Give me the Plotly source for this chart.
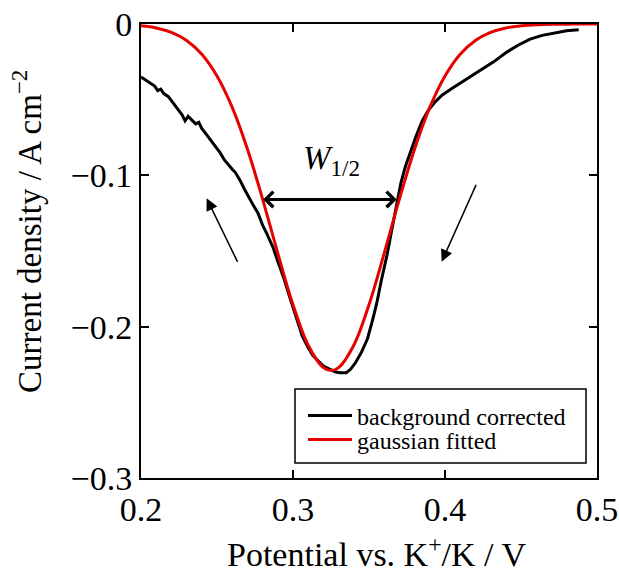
import plotly.graph_objects as go

# background-corrected current density
bg_x = [0.200, 0.203, 0.206, 0.209, 0.211, 0.213, 0.215, 0.218, 0.221, 0.224, 0.227, 0.229,
        0.231, 0.233, 0.236, 0.238, 0.240, 0.243, 0.246, 0.249, 0.252, 0.255, 0.258, 0.260,
        0.262, 0.265, 0.268, 0.271, 0.274, 0.277, 0.280, 0.283, 0.287, 0.290, 0.294, 0.298,
        0.302, 0.306, 0.310, 0.313, 0.316, 0.320, 0.324, 0.328, 0.331, 0.335, 0.338, 0.341,
        0.345, 0.349, 0.352, 0.355, 0.358, 0.362, 0.365, 0.368, 0.371, 0.374, 0.377, 0.381,
        0.385, 0.389, 0.393, 0.398, 0.404, 0.410, 0.416, 0.424, 0.432, 0.440, 0.448, 0.456,
        0.464, 0.472, 0.480, 0.488]
bg_y = [-0.035, -0.037, -0.039, -0.041, -0.044, -0.043, -0.046, -0.048, -0.052, -0.056, -0.060, -0.064,
        -0.061, -0.063, -0.066, -0.065, -0.069, -0.073, -0.077, -0.081, -0.085, -0.090, -0.094, -0.096,
        -0.098, -0.103, -0.109, -0.115, -0.120, -0.125, -0.133, -0.139, -0.148, -0.157, -0.168, -0.181,
        -0.194, -0.206, -0.214, -0.219, -0.222, -0.226, -0.228, -0.230, -0.2305, -0.2305, -0.228, -0.224,
        -0.217, -0.208, -0.197, -0.185, -0.170, -0.152, -0.136, -0.120, -0.105, -0.094, -0.085, -0.074,
        -0.064, -0.057, -0.052, -0.047, -0.043, -0.039, -0.035, -0.030, -0.025, -0.019, -0.014, -0.010,
        -0.0075, -0.0058, -0.0045, -0.0038]

# gaussian fitted curve
fit_x = [0.20, 0.21, 0.22, 0.23, 0.24, 0.25, 0.26, 0.27, 0.28, 0.29, 0.30, 0.31, 0.32, 0.325,
         0.33, 0.34, 0.35, 0.36, 0.37, 0.38, 0.39, 0.40, 0.41, 0.42, 0.43, 0.44, 0.45, 0.46,
         0.47, 0.48, 0.49, 0.50]
fit_y = [-0.0012, -0.0026, -0.0056, -0.0109, -0.0200, -0.0344, -0.0551, -0.0826, -0.1157, -0.1515,
         -0.1855, -0.2123, -0.2271, -0.2290, -0.2271, -0.2123, -0.1855, -0.1515, -0.1157, -0.0826,
         -0.0551, -0.0344, -0.0200, -0.0109, -0.0056, -0.0026, -0.0012, -0.0005, -0.0002, -0.0001,
         0.0, 0.0]

x_ticks = [0.2, 0.3, 0.4, 0.5]
y_ticks = [0, -0.1, -0.2, -0.3]
series_names = ["background corrected", "gaussian fitted"]
x_title = "Potential vs. K<sup>+</sup>/K / V"
y_title = "Current density / A cm<sup>−2</sup>"
width_label = "<i>W</i><sub>1/2</sub>"
w_left, w_right, w_level = 0.2794, 0.3682, -0.1159

FONT = "Liberation Serif, Times New Roman, serif"
L, R, T, B = 141, 597, 24, 478
PW, PH = R - L, B - T


def px_x(p):
    return (p - L) / PW


def px_y(p):
    return (B - p) / PH


fig = go.Figure()
fig.add_trace(go.Scatter(x=bg_x, y=bg_y, mode="lines", name=series_names[0], legend="legend",
                         line=dict(color="black", width=3)))
fig.add_trace(go.Scatter(x=fit_x, y=fit_y, mode="lines", name=series_names[1], legend="legend2",
                         line=dict(color="#e60000", width=3, shape="spline")))

axis_common = dict(showline=True, linecolor="black", linewidth=2, mirror="ticks",
                   ticks="inside", ticklen=8, tickwidth=2, tickcolor="black",
                   showgrid=False, zeroline=False, automargin=False,
                   tickfont=dict(family=FONT, size=34, color="black"))
fig.update_xaxes(range=[0.2, 0.5], tickvals=x_ticks, ticktext=[f"{v:.1f}" for v in x_ticks],
                 **axis_common)
fig.update_yaxes(range=[-0.3, 0], tickvals=y_ticks,
                 ticktext=["0"] + [f"−{abs(v):.1f}" for v in y_ticks[1:]], **axis_common)

fig.add_annotation(x=w_right, y=w_level, ax=w_left, ay=w_level, axref="x", ayref="y",
                   xref="x", yref="y", text="", showarrow=True, arrowhead=4, startarrowhead=4,
                   arrowside="end+start", arrowwidth=3, arrowsize=1, startarrowsize=1,
                   arrowcolor="black", standoff=0, startstandoff=0)
fig.add_annotation(x=0.325, y=-0.090, xref="x", yref="y", text=width_label, showarrow=False,
                   font=dict(family=FONT, size=33, color="black"))
# direction arrows
fig.add_annotation(x=0.2432, y=-0.1152, ax=0.264, ay=-0.1582, axref="x", ayref="y",
                   xref="x", yref="y", text="", showarrow=True, arrowhead=2, arrowwidth=1.5,
                   arrowsize=1.6, arrowcolor="black", standoff=0)
fig.add_annotation(x=0.3978, y=-0.1571, ax=0.4209, ay=-0.1053, axref="x", ayref="y",
                   xref="x", yref="y", text="", showarrow=True, arrowhead=2, arrowwidth=1.5,
                   arrowsize=1.6, arrowcolor="black", standoff=0)

# axis titles
fig.add_annotation(x=px_x(376), y=px_y(552), xref="paper", yref="paper",
                   text=x_title, showarrow=False, xanchor="center", yanchor="middle",
                   font=dict(family=FONT, size=34, color="black"))
fig.add_annotation(x=px_x(27), y=px_y(232), xref="paper", yref="paper",
                   text=y_title, showarrow=False, textangle=-90, xanchor="center", yanchor="middle",
                   font=dict(family=FONT, size=33, color="black"))

# legend frame
fig.add_shape(type="rect", xref="paper", yref="paper", x0=px_x(295), x1=px_x(586),
              y0=px_y(463), y1=px_y(389), line=dict(color="black", width=1.5),
              fillcolor="white", layer="above")

leg_common = dict(xanchor="left", yanchor="middle", borderwidth=0, bgcolor="rgba(0,0,0,0)",
                  font=dict(family=FONT, size=24, color="black"), itemwidth=44, tracegroupgap=0)
fig.update_layout(
    width=619, height=573,
    margin=dict(l=L, r=619 - R, t=T, b=573 - B, autoexpand=False),
    plot_bgcolor="white", paper_bgcolor="white",
    showlegend=True,
    legend=dict(x=px_x(303), y=px_y(416), **leg_common),
    legend2=dict(x=px_x(303), y=px_y(440), **leg_common),
)

fig.write_html("out.html")
